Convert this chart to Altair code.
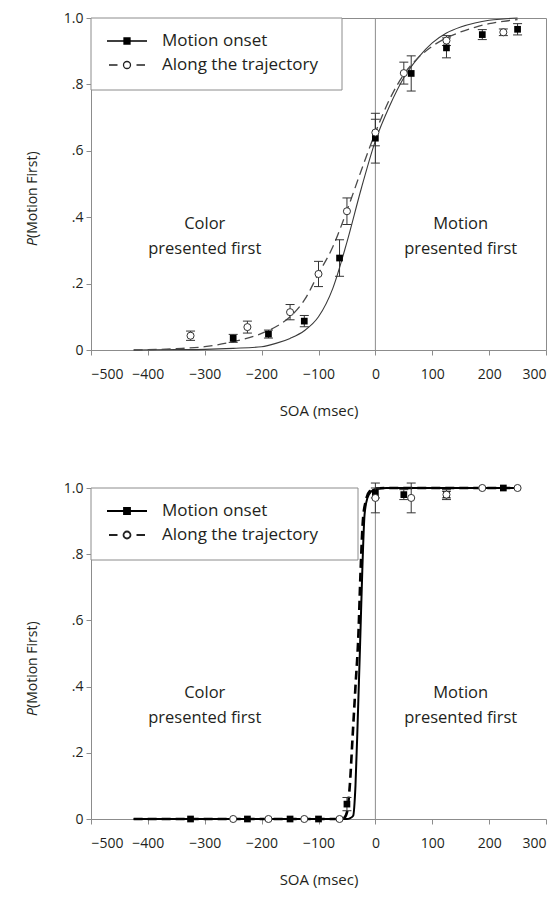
import altair as alt
import pandas as pd

FONT = "Open Sans"
TXT = "#231f20"
AXC = "#8c8c8c"
SERIES = ["Motion onset", "Along the trajectory"]

X_TICKS = [-500, -400, -300, -200, -100, 0, 100, 200, 300]
Y_TICKS = [0, 0.2, 0.4, 0.6, 0.8, 1.0]
DIVIDER = [0]
YLABEL = ["P", "(Motion First)"]
NOTE_SOA = [-300, 150]
NOTE_P = [0.38, 0.38]
NOTE_TXT = ["Color\npresented first", "Motion\npresented first"]

# ---- top panel: observed points ----
A_on_soa = [-250, -188, -125, -63, 0, 63, 125, 188, 250]
A_on_p = [0.035, 0.048, 0.087, 0.277, 0.638, 0.833, 0.91, 0.95, 0.966]
A_on_err = [0.012, 0.012, 0.017, 0.055, 0.075, 0.053, 0.03, 0.015, 0.017]
A_tr_soa = [-325, -225, -150, -100, -50, 0, 50, 125, 225]
A_tr_p = [0.043, 0.069, 0.114, 0.229, 0.418, 0.655, 0.834, 0.932, 0.957]
A_tr_err = [0.014, 0.018, 0.023, 0.038, 0.04, 0.04, 0.033, 0.015, 0.01]
# ---- top panel: fitted curves ----
A_con_soa = [-425, -350, -300, -250, -200, -175, -150, -125, -100, -75, -50, -25, 0, 25, 50, 75, 100, 125, 150, 175, 200, 225, 250]
A_con_p = [0.0, 0.001, 0.002, 0.005, 0.01, 0.02, 0.035, 0.058, 0.1, 0.185, 0.325, 0.485, 0.63, 0.735, 0.82, 0.88, 0.925, 0.955, 0.973, 0.985, 0.993, 0.997, 1.0]
A_ctr_soa = [-425, -350, -300, -250, -200, -175, -150, -125, -100, -75, -50, -25, 0, 25, 50, 75, 100, 125, 150, 175, 200, 225, 250]
A_ctr_p = [0.0, 0.004, 0.01, 0.025, 0.05, 0.07, 0.1, 0.15, 0.23, 0.31, 0.42, 0.54, 0.655, 0.755, 0.83, 0.88, 0.915, 0.94, 0.958, 0.972, 0.983, 0.99, 0.995]

# ---- bottom panel: observed points ----
B_on_soa = [-325, -225, -150, -100, -50, 0, 50, 125, 225]
B_on_p = [0.0, 0.0, 0.0, 0.0, 0.045, 0.985, 0.98, 0.98, 1.0]
B_on_err = [0, 0, 0, 0, 0.02, 0.015, 0.015, 0.01, 0]
B_tr_soa = [-250, -188, -125, -63, 0, 63, 125, 188, 250]
B_tr_p = [0.0, 0.0, 0.0, 0.0, 0.97, 0.97, 0.98, 1.0, 1.0]
B_tr_err = [0, 0, 0, 0, 0.045, 0.045, 0.015, 0, 0]
# ---- bottom panel: fitted curves ----
B_con_soa = [-425, -300, -200, -100, -50, -45, -39, -35, -31, -27, -23, -19, -14, -7, 0, 20, 100, 250]
B_con_p = [0.0, 0.0, 0.0, 0.0, 0.0, 0.002, 0.01, 0.1, 0.3, 0.52, 0.75, 0.92, 0.97, 0.99, 0.997, 1.0, 1.0, 1.0]
B_ctr_soa = [-425, -300, -200, -100, -60, -55, -50, -45, -40, -35, -30, -26, -22, -17, -10, 0, 20, 100, 250]
B_ctr_p = [0.0, 0.0, 0.0, 0.0, 0.0, 0.003, 0.02, 0.1, 0.25, 0.4, 0.55, 0.75, 0.9, 0.96, 0.99, 0.998, 1.0, 1.0, 1.0]

PATH_ON = "M-2,0H2M-0.3,-0.3H0.3V0.3H-0.3Z"
PATH_TR = "M-1.8,0H-0.95M0.95,0H1.8M0.35,0A0.35,0.35,0,1,1,-0.35,0A0.35,0.35,0,1,1,0.35,0Z"


def panel(on_soa, on_p, on_err, tr_soa, tr_p, tr_err,
          con_soa, con_p, ctr_soa, ctr_p, heavy, height, box_w, box_h):
    pts = pd.DataFrame({
        "soa": on_soa + tr_soa,
        "p": on_p + tr_p,
        "err": on_err + tr_err,
        "series": [SERIES[0]] * len(on_soa) + [SERIES[1]] * len(tr_soa),
    })
    pts["lo"] = pts["p"] - pts["err"]
    pts["hi"] = pts["p"] + pts["err"]
    curves = pd.DataFrame({
        "soa": con_soa + ctr_soa,
        "p": con_p + ctr_p,
        "series": [SERIES[0]] * len(con_soa) + [SERIES[1]] * len(ctr_soa),
    })

    x = alt.X("soa:Q", scale=alt.Scale(domain=[-500, 300], nice=False),
              axis=alt.Axis(values=X_TICKS, title="SOA (msec)", labelPadding=12,
                            titlePadding=22))
    y = alt.Y("p:Q", scale=alt.Scale(domain=[0, 1], nice=False),
              axis=alt.Axis(values=Y_TICKS, title="", labelPadding=3,
                            labelExpr="datum.value == 0 ? '0' : datum.value == 1 ? '1.0' : replace(format(datum.value, '.1f'), '0.', '.')"))

    div = alt.Chart(pd.DataFrame({"soa": DIVIDER})).mark_rule(
        color=AXC, strokeWidth=1).encode(x=x)

    cb = alt.Chart(curves)
    if heavy:
        c_on = cb.transform_filter(alt.datum.series == SERIES[0]).mark_line(
            color="black", strokeWidth=2, interpolate="monotone").encode(x=x, y=y)
        c_tr = cb.transform_filter(alt.datum.series == SERIES[1]).mark_line(
            color="black", strokeWidth=2.6, strokeDash=[9, 5], interpolate="monotone").encode(x=x, y=y)
    else:
        c_on = cb.transform_filter(alt.datum.series == SERIES[0]).mark_line(
            color="#3a3a3a", strokeWidth=1.1, interpolate="monotone").encode(x=x, y=y)
        c_tr = cb.transform_filter(alt.datum.series == SERIES[1]).mark_line(
            color="#4a4a4a", strokeWidth=1.3, strokeDash=[9, 5], interpolate="monotone").encode(x=x, y=y)

    pb = alt.Chart(pts)
    eb = pb.transform_filter("datum.err > 0")
    e_rule = eb.mark_rule(color="#333", strokeWidth=1).encode(
        x=x, y=alt.Y("lo:Q"), y2="hi:Q")
    cap_lo = eb.mark_rule(color="#333", strokeWidth=1, xOffset=-4.5, x2Offset=4.5).encode(
        x=x, x2="soa:Q", y=alt.Y("lo:Q"))
    cap_hi = eb.mark_rule(color="#333", strokeWidth=1, xOffset=-4.5, x2Offset=4.5).encode(
        x=x, x2="soa:Q", y=alt.Y("hi:Q"))

    p_on = pb.transform_filter(alt.datum.series == SERIES[0]).mark_point(
        shape="square", filled=True, color="black", size=45, opacity=1).encode(x=x, y=y)
    p_tr = pb.transform_filter(alt.datum.series == SERIES[1]).mark_point(
        shape="circle", filled=True, fill="white", stroke="#333", strokeWidth=1,
        size=50, opacity=1).encode(x=x, y=y)

    # legend frame (white box with grey border)
    box = alt.Chart(pd.DataFrame({"k": [0]})).mark_rect(
        fill="white", stroke=AXC, strokeWidth=1).encode(
        x=alt.value(0), x2=alt.value(box_w), y=alt.value(0), y2=alt.value(box_h))

    leg = alt.Legend(title=None, orient="none", legendX=0, legendY=0,
                     padding=12,
                     symbolSize=400, symbolStrokeColor="black",
                     symbolStrokeWidth=1.8 if heavy else 1.3,
                     symbolOffset=13, labelOffset=24, rowPadding=5,
                     labelFont=FONT, labelFontSize=17, labelColor=TXT)
    legend_layer = pb.transform_filter("false").mark_point(
        filled=False, strokeWidth=1.3, opacity=1).encode(
        x=x, y=y,
        shape=alt.Shape("series:N", scale=alt.Scale(domain=SERIES, range=[PATH_ON, PATH_TR]), legend=leg),
        fill=alt.Fill("series:N", scale=alt.Scale(domain=SERIES, range=["black", "white"]), legend=leg),
        stroke=alt.Stroke("series:N", scale=alt.Scale(domain=SERIES, range=["black", "#222"]), legend=leg),
    )

    notes = alt.Chart(pd.DataFrame({"soa": NOTE_SOA, "p": NOTE_P, "t": NOTE_TXT})).mark_text(
        lineBreak="\n", lineHeight=25, fontSize=16.5, font=FONT, color=TXT,
        baseline="middle", align="center").encode(x=x, y=y, text="t:N")

    t_main = alt.Chart(pd.DataFrame({"t": [YLABEL[1]]})).mark_text(
        angle=270, align="left", baseline="middle", fontSize=14, font=FONT, color=TXT).encode(
        x=alt.value(-58), y=alt.value(220), text="t:N")
    t_p = alt.Chart(pd.DataFrame({"t": [YLABEL[0]]})).mark_text(
        angle=270, align="right", baseline="middle", fontSize=14, font=FONT, color=TXT,
        fontStyle="italic").encode(
        x=alt.value(-58), y=alt.value(220), text="t:N")

    ch = alt.layer(div, c_on, c_tr, e_rule, cap_lo, cap_hi, p_on, p_tr, box,
                   legend_layer, notes, t_main, t_p).properties(width=455, height=height)
    return ch


top = panel(A_on_soa, A_on_p, A_on_err, A_tr_soa, A_tr_p, A_tr_err,
            A_con_soa, A_con_p, A_ctr_soa, A_ctr_p, False, 332, 251, 72).properties(
    view=alt.ViewBackground(stroke=AXC, strokeWidth=1))
bottom = panel(B_on_soa, B_on_p, B_on_err, B_tr_soa, B_tr_p, B_tr_err,
               B_con_soa, B_con_p, B_ctr_soa, B_ctr_p, True, 331, 267, 72)

chart = alt.vconcat(top, bottom, spacing=62).resolve_scale(
    shape="independent", fill="independent", stroke="independent").resolve_legend(
    shape="independent", fill="independent", stroke="independent").properties(
    padding={"left": 17, "top": 2, "right": 4, "bottom": 2}
).configure_view(strokeWidth=0).configure_axis(
    domainColor=AXC, tickColor=AXC, tickSize=5, grid=False,
    labelFont=FONT, labelFontSize=14, labelColor=TXT,
    titleFont=FONT, titleFontSize=15, titleFontWeight="normal", titleColor=TXT,
)

chart.save("out.html", embed_options={"renderer": "svg", "actions": False})
